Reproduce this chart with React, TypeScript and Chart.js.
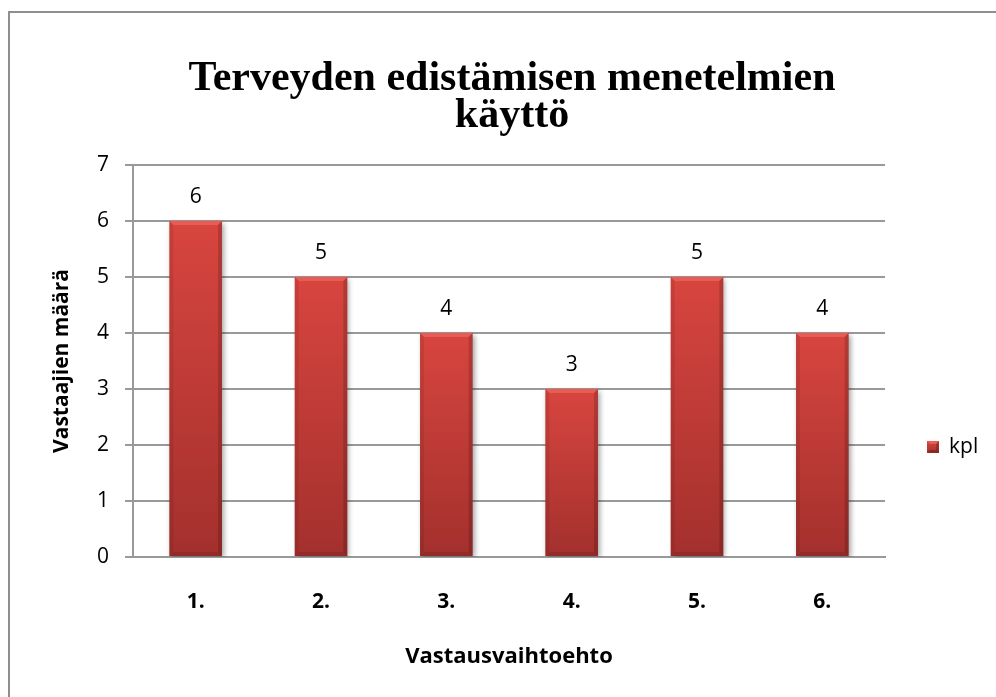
import React, { useEffect, useRef } from "react";
import { Chart, registerables } from "chart.js";

Chart.register(...registerables);

const categories = ["1.", "2.", "3.", "4.", "5.", "6."];
const values = [6, 5, 4, 3, 5, 4];
const seriesName = "kpl";
const titleLines = ["Terveyden edistämisen menetelmien", "käyttö"];
const yTitle = "Vastaajien määrä";
const xTitle = "Vastausvaihtoehto";
const yMin = 0;
const yMax = 7;
const yStep = 1;

const SANS = "'Open Sans', Lato, sans-serif";
const GRID = "#999999";

function barGradient(ctx: CanvasRenderingContext2D, top: number, bottom: number) {
  const g = ctx.createLinearGradient(0, top, 0, bottom);
  g.addColorStop(0, "#D8453F");
  g.addColorStop(1, "#A3302D");
  return g;
}

const decorPlugin = {
  id: "decor",
  beforeDatasetsDraw(chart: any) {
    const ctx = chart.ctx;
    ctx.save();
    ctx.shadowColor = "rgba(0,0,0,0.35)";
    ctx.shadowBlur = 5;
    ctx.shadowOffsetX = 2;
    ctx.shadowOffsetY = 2;
  },
  afterDatasetsDraw(chart: any) {
    const ctx = chart.ctx;
    ctx.restore();
    const meta = chart.getDatasetMeta(0);
    meta.data.forEach((el: any, i: number) => {
      const { x, y, base, width } = el.getProps(["x", "y", "base", "width"], true);
      const l = x - width / 2;
      const r = x + width / 2;
      const b = 4;
      ctx.save();
      ctx.fillStyle = "rgba(255,120,110,0.45)";
      ctx.beginPath();
      ctx.moveTo(l, y);
      ctx.lineTo(r, y);
      ctx.lineTo(r - b, y + b);
      ctx.lineTo(l + b, y + b);
      ctx.closePath();
      ctx.fill();
      ctx.fillStyle = "rgba(0,0,0,0.08)";
      ctx.beginPath();
      ctx.moveTo(l, y);
      ctx.lineTo(l + b, y + b);
      ctx.lineTo(l + b, base - b);
      ctx.lineTo(l, base);
      ctx.closePath();
      ctx.fill();
      ctx.fillStyle = "rgba(0,0,0,0.16)";
      ctx.beginPath();
      ctx.moveTo(r, y);
      ctx.lineTo(r - b, y + b);
      ctx.lineTo(r - b, base - b);
      ctx.lineTo(r, base);
      ctx.closePath();
      ctx.fill();
      ctx.fillStyle = "rgba(0,0,0,0.1)";
      ctx.beginPath();
      ctx.moveTo(l, base);
      ctx.lineTo(l + b, base - b);
      ctx.lineTo(r - b, base - b);
      ctx.lineTo(r, base);
      ctx.closePath();
      ctx.fill();
      ctx.fillStyle = "#000";
      ctx.font = `21px ${SANS}`;
      ctx.textAlign = "center";
      ctx.textBaseline = "middle";
      ctx.fillText(String(values[i]), x, y - 24);
      ctx.restore();
    });

    const area = chart.chartArea;
    const lx = area.right + 42;
    const ly = (area.top + area.bottom) / 2 + 86;
    const s = 12;
    ctx.save();
    ctx.fillStyle = barGradient(ctx, ly - s / 2, ly + s / 2);
    ctx.fillRect(lx, ly - s / 2, s, s);
    ctx.fillStyle = "rgba(255,120,110,0.5)";
    ctx.beginPath();
    ctx.moveTo(lx, ly - s / 2);
    ctx.lineTo(lx + s, ly - s / 2);
    ctx.lineTo(lx + s - 3, ly - s / 2 + 3);
    ctx.lineTo(lx + 3, ly - s / 2 + 3);
    ctx.closePath();
    ctx.fill();
    ctx.fillStyle = "rgba(0,0,0,0.2)";
    ctx.beginPath();
    ctx.moveTo(lx + s, ly - s / 2);
    ctx.lineTo(lx + s, ly + s / 2);
    ctx.lineTo(lx, ly + s / 2);
    ctx.lineTo(lx + 3, ly + s / 2 - 3);
    ctx.lineTo(lx + s - 3, ly + s / 2 - 3);
    ctx.lineTo(lx + s - 3, ly - s / 2 + 3);
    ctx.closePath();
    ctx.fill();
    ctx.fillStyle = "#000";
    ctx.font = `21px ${SANS}`;
    ctx.textAlign = "left";
    ctx.textBaseline = "middle";
    ctx.fillText(seriesName, lx + s + 10, ly);
    ctx.restore();
  },
};

export default function App() {
  const ref = useRef<HTMLCanvasElement | null>(null);

  useEffect(() => {
    if (!ref.current) return;
    const chart = new Chart(ref.current, {
      type: "bar",
      data: {
        labels: categories,
        datasets: [
          {
            label: seriesName,
            data: values,
            backgroundColor: (c: any) => {
              const chart = c.chart;
              const ys = chart.scales?.y;
              if (!ys || c.raw == null) return "#C43B37";
              const top = ys.getPixelForValue(c.raw);
              const bottom = ys.getPixelForValue(0);
              if (!isFinite(top) || !isFinite(bottom) || top === bottom) return "#C43B37";
              return barGradient(chart.ctx, top, bottom);
            },
            borderWidth: 0,
            barPercentage: 0.42,
            categoryPercentage: 1,
          },
        ],
      },
      options: {
        animation: false,
        responsive: false,
        maintainAspectRatio: false,
        layout: { padding: { top: 12, left: 28, right: 0, bottom: 20 } },
        plugins: {
          legend: { display: false },
          tooltip: { enabled: false },
          title: {
            display: true,
            text: titleLines,
            color: "#000",
            font: { family: "'Liberation Serif', 'Times New Roman', serif", size: 42, weight: "bold", lineHeight: 0.88 },
            padding: { top: 49, bottom: 30 },
          },
        },
        scales: {
          x: {
            grid: { display: false, drawTicks: false },
            border: { display: true, color: GRID, width: 2 },
            ticks: { color: "#000", font: { family: SANS, size: 21, weight: "bold" }, padding: 32.4 },
            title: {
              display: true,
              text: xTitle,
              color: "#000",
              font: { family: SANS, size: 22, weight: "bold" },
              padding: { top: 0, bottom: 6.8 },
            },
            afterFit: (s: any) => {
              s.height = 120;
            },
          },
          y: {
            min: yMin,
            max: yMax,
            grid: { color: GRID, lineWidth: 2, drawTicks: true, tickLength: 8, tickColor: GRID },
            border: { display: true, color: GRID, width: 2 },
            ticks: { stepSize: yStep, color: "#000", font: { family: SANS, size: 21 }, padding: 16 },
            title: {
              display: true,
              text: yTitle,
              color: "#000",
              font: { family: SANS, size: 21, weight: "bold" },
              padding: { top: 21.4, bottom: 0 },
            },
            afterFit: (s: any) => {
              s.width = 105;
            },
          },
          yR: {
            type: "linear",
            position: "right",
            display: true,
            grid: { display: false, drawTicks: false },
            border: { display: false },
            ticks: { display: false },
            afterFit: (s: any) => {
              s.width = 111;
            },
          },
        },
      },
      plugins: [decorPlugin],
    });
    return () => chart.destroy();
  }, []);

  return (
    <div style={{ position: "absolute", left: 0, top: 0, width: 996, height: 697, background: "#fff" }}>
      <canvas ref={ref} width={996} height={697} style={{ position: "absolute", left: 0, top: 0 }} />
      <div
        style={{
          position: "absolute",
          left: 8,
          top: 11,
          width: 988,
          height: 686,
          borderTop: "2px solid #8f8f8f",
          borderLeft: "2px solid #8f8f8f",
          pointerEvents: "none",
        }}
      />
    </div>
  );
}
